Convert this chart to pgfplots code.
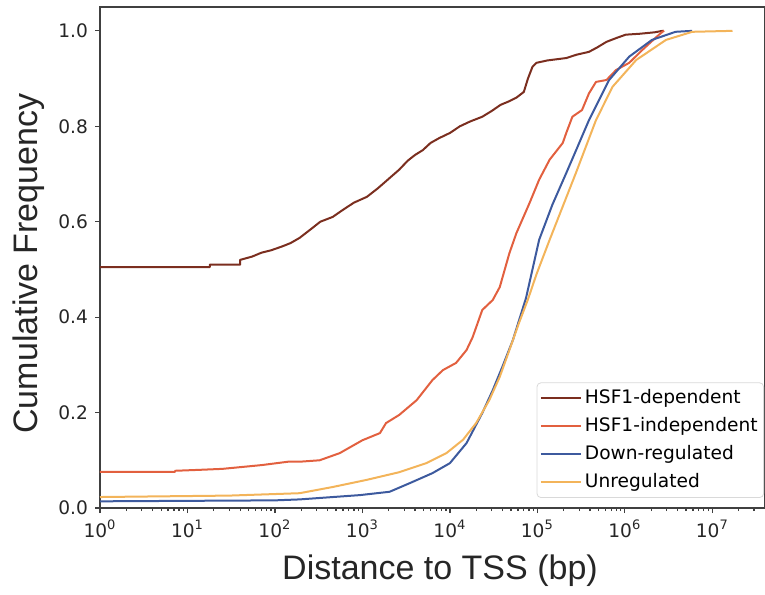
\documentclass[border=0pt]{standalone}
\usepackage{pgfplots}
\pgfplotsset{compat=1.18}
\usepackage{fontspec}
\setmainfont{DejaVu Sans}
\newfontfamily\labelfont{Liberation Sans}

\definecolor{cdep}{HTML}{7B2E1F}
\definecolor{cindep}{HTML}{E2603F}
\definecolor{cdown}{HTML}{3D5A9E}
\definecolor{cunreg}{HTML}{F3B45A}

\begin{document}
\begin{tikzpicture}
\begin{axis}[name=ax, scale only axis,
    width=332.5pt, height=250.5pt,
    xmode=log, xmin=1, xmax=4e7, ymin=0, ymax=1.05,
    xtick={1,10,100,1000,10000,100000,1000000,10000000},
    xticklabels={10\textsuperscript{0},10\textsuperscript{1},10\textsuperscript{2},10\textsuperscript{3},
                 10\textsuperscript{4},10\textsuperscript{5},10\textsuperscript{6},10\textsuperscript{7}},
    minor xtick={2,3,4,5,6,7,8,9,20,30,40,50,60,70,80,90,
                 200,300,400,500,600,700,800,900,2000,3000,4000,5000,6000,7000,8000,9000,
                 2e4,3e4,4e4,5e4,6e4,7e4,8e4,9e4,2e5,3e5,4e5,5e5,6e5,7e5,8e5,9e5,
                 2e6,3e6,4e6,5e6,6e6,7e6,8e6,9e6,2e7,3e7},
    ytick={0,0.2,0.4,0.6,0.8,1.0},
    yticklabel style={/pgf/number format/.cd, fixed, fixed zerofill, precision=1},
    /pgf/number format/assume math mode=true,
    tick align=outside, tick pos=left,
    major tick length=2.5pt, minor tick length=1.5pt,
    axis line style={draw=black!75, line width=0.75pt},
    every tick/.style={black!75, line width=0.6pt},
    tick label style={font=\fontsize{9.3}{11}\selectfont, text=black!85},
    xlabel={Distance to TSS (bp)}, ylabel={Cumulative Frequency},
    label style={font=\labelfont\fontsize{17}{20}\selectfont, text=black!85},
    xlabel style={at={(axis description cs:0.5,0)}, anchor=north, yshift=-20pt, xshift=3.75pt},
    ylabel style={at={(axis description cs:0,0.5)}, anchor=south, yshift=24pt, xshift=-3pt},
    legend style={at={(0.9985,0.02)}, anchor=south east,
        draw=black!15, rounded corners=2pt, fill=white, fill opacity=0.8, text opacity=1,
        inner sep=1.5pt, row sep=1.2pt,
        font=\fontsize{9.3}{11}\selectfont,
        nodes={inner sep=1.5pt, text height=7.5pt, text depth=2.2pt},
        /tikz/every even column/.append style={column sep=4pt}},
    legend cell align=left,
    legend image code/.code={\draw[#1] (0pt,0pt) -- (20pt,0pt);},
    every axis plot/.append style={line width=1pt, line join=round}]

\addplot[color=cdep] coordinates {
  (1,0.505) (18,0.505) (18,0.510) (40,0.510) (40,0.520) (55,0.527) (70,0.535)
  (90,0.540) (120,0.548) (150,0.555) (191,0.566) (260,0.585) (330,0.600)
  (457,0.610) (600,0.625) (800,0.640) (1122,0.652) (1500,0.670) (2000,0.690)
  (2630,0.709) (3300,0.728) (4000,0.740) (4898,0.750) (6000,0.765) (7500,0.775)
  (10000,0.786) (13000,0.800) (17000,0.810) (23442,0.820) (30000,0.832)
  (38000,0.845) (47000,0.852) (57544,0.860) (70000,0.872) (78000,0.900)
  (88000,0.925) (97724,0.933) (130000,0.938) (213796,0.943) (280000,0.950)
  (389045,0.956) (480000,0.965) (616595,0.977) (800000,0.985) (1.023e6,0.992)
  (1.5e6,0.994) (2.2e6,0.997) (2.69e6,1.0) (2.8e6,1.0)
};
\addlegendentry{HSF1-dependent}

\addplot[color=cindep] coordinates {
  (1,0.0755) (7.2,0.0755) (7.2,0.078) (13.8,0.080) (25,0.082) (71,0.090)
  (141,0.097) (191,0.097) (324,0.100) (550,0.115) (1000,0.142) (1585,0.157)
  (1862,0.178) (2630,0.195) (4169,0.226) (6310,0.268) (8318,0.289)
  (11750,0.304) (15488,0.331) (18197,0.358) (23442,0.415) (30903,0.436)
  (37154,0.463) (47863,0.534) (57544,0.576) (81283,0.639) (104713,0.688)
  (138038,0.730) (194984,0.765) (213796,0.786) (251189,0.820) (323594,0.834)
  (389045,0.869) (467735,0.893) (616595,0.897) (794328,0.918) (1.122e6,0.933)
  (1.585e6,0.960) (2.291e6,0.987) (2.69e6,0.998) (2.818e6,1.0)
};
\addlegendentry{HSF1-independent}

\addplot[color=cdown] coordinates {
  (1,0.014) (100,0.016) (191,0.018) (933,0.027) (2042,0.034) (3467,0.052)
  (6310,0.073) (10000,0.094) (15488,0.136) (23442,0.199) (30903,0.247)
  (39811,0.296) (52481,0.352) (74131,0.440) (104713,0.562) (147911,0.635)
  (213796,0.702) (281838,0.753) (389045,0.813) (660693,0.897) (1.122e6,0.946)
  (2.04e6,0.981) (3.8e6,0.998) (5.89e6,1.0)
};
\addlegendentry{Down-regulated}

\addplot[color=cunreg] coordinates {
  (1,0.023) (30,0.026) (191,0.031) (457,0.044) (1122,0.059) (2630,0.075)
  (5370,0.094) (9120,0.115) (14125,0.143) (19953,0.178) (28184,0.226)
  (37154,0.275) (47863,0.331) (61660,0.388) (77625,0.436) (97724,0.490)
  (138038,0.562) (194984,0.632) (275423,0.702) (467735,0.813) (724436,0.883)
  (1.35e6,0.939) (2.95e6,0.981) (5.89e6,0.998) (1.7e7,1.0)
};
\addlegendentry{Unregulated}

\end{axis}
\pgfresetboundingbox
\path ([shift={(-50pt,-43pt)}]ax.south west) rectangle ([shift={(0pt,3.5pt)}]ax.north east);
\end{tikzpicture}
\end{document}
